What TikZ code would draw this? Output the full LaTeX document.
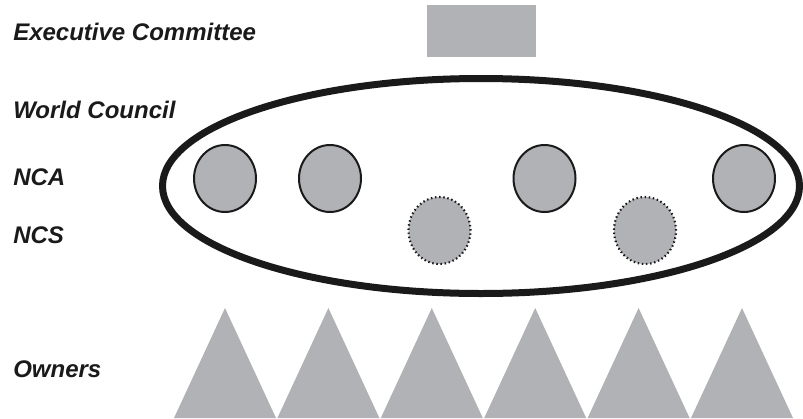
\documentclass[tikz,border=0pt]{standalone}
\usepackage{fontspec}
\setmainfont{Liberation Sans}
\usepackage{xcolor}
\usepackage{tikz}
\usetikzlibrary{shapes.geometric}
\definecolor{memgray}{HTML}{B1B2B6}
\definecolor{inkblack}{HTML}{1A1A1A}

\begin{document}
\begin{tikzpicture}[x=0.75pt,y=-0.75pt,
  rowlabel/.style={anchor=base west, inner sep=0pt, font=\fontsize{18}{20}\selectfont\bfseries\itshape, text=inkblack},
  nca/.style={ellipse, draw=inkblack, line width=1.5pt, fill=memgray, minimum width=46.5pt, minimum height=50.25pt, inner sep=0pt},
  ncs/.style={ellipse, draw=inkblack, line width=1.6pt, dash pattern=on 1.1pt off 2pt, fill=memgray, minimum width=46.5pt, minimum height=50.25pt, inner sep=0pt}]

\useasboundingbox (0,0) rectangle (803,418);

% Etiquetas das linhas
\node[rowlabel] (lexec) at (13,40) {Executive Committee};
\node[rowlabel] (lworld) at (13,118) {World Council};
\node[rowlabel] (lnca) at (13,185) {NCA};
\node[rowlabel] (lncs) at (13,243) {NCS};
\node[rowlabel] (lowners) at (13,377) {Owners};

% Comite executivo
\fill[memgray] (427,5) rectangle (536,57);

% Conselho mundial
\draw[inkblack, line width=5.25pt] (481,186) ellipse [x radius=318.5, y radius=107.5];

% NCA
\node[nca] (nca1) at (225,178.5) {};
\node[nca] (nca2) at (330,178.5) {};
\node[nca] (nca3) at (544.5,178.5) {};
\node[nca] (nca4) at (744,178.5) {};

% NCS
\node[ncs] (ncs1) at (439.5,230.5) {};
\node[ncs] (ncs2) at (645,230.5) {};

% Proprietarios
\foreach \cx in {225,328.4,431.8,535.2,638.6,742}
  \fill[memgray] (\cx-51,418) -- (\cx,308) -- (\cx+51,418) -- cycle;

\end{tikzpicture}
\end{document}
